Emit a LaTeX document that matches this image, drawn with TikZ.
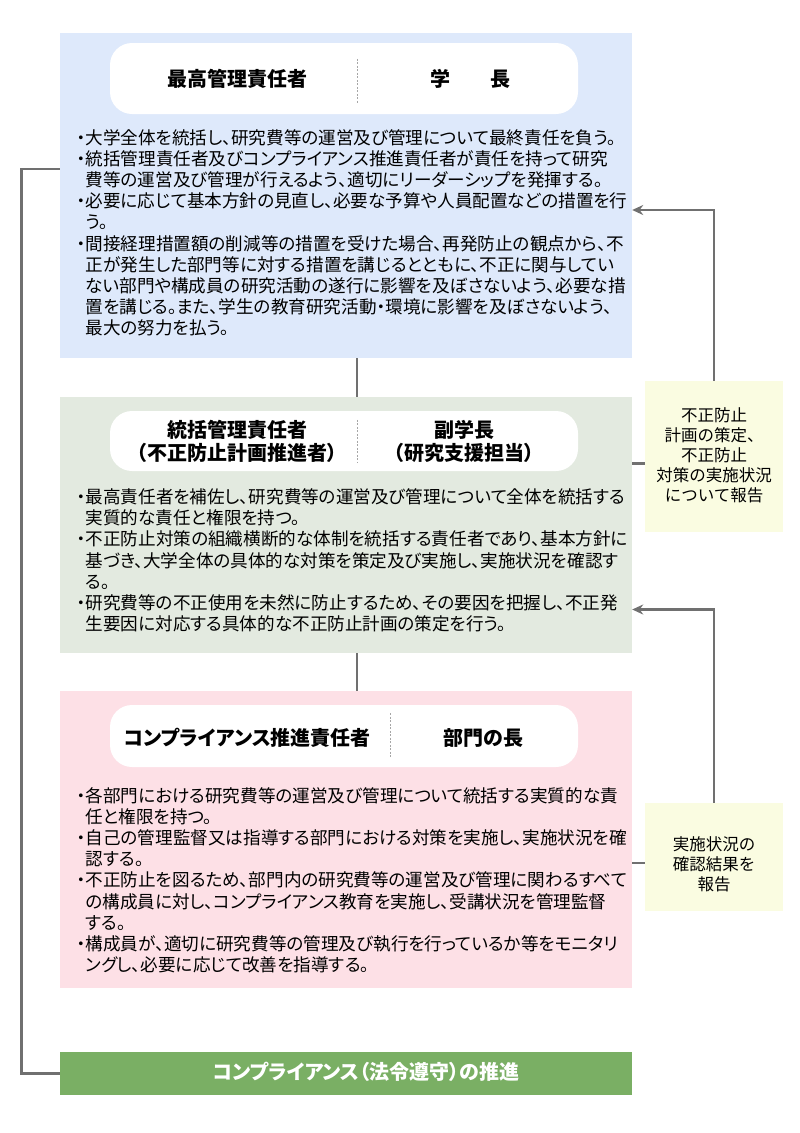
\documentclass[tikz,border=0pt]{standalone}
\usepackage{fontspec}
\setmainfont{Noto Sans CJK JP}[RawFeature=+palt]
\newfontfamily\plainjp{Noto Sans CJK JP}
\usetikzlibrary{arrows.meta}

\definecolor{panelblue}{RGB}{222,233,251}
\definecolor{panelgreen}{RGB}{227,234,224}
\definecolor{panelpink}{RGB}{253,224,230}
\definecolor{reportyellow}{RGB}{250,252,225}
\definecolor{bargreen}{RGB}{122,175,100}
\definecolor{linegray}{RGB}{112,112,112}

\def\panelwidth{572pt}
\newcommand{\itm}{\makebox[9.5pt][c]{・}}
\newcommand{\cnt}{\hspace*{9.5pt}}

\begin{document}
\begin{tikzpicture}[x=1pt,y=-1pt]
    \tikzstyle{panel}=[rectangle,minimum width=\panelwidth,inner sep=0pt]
    \tikzstyle{header}=[rectangle,fill=white,rounded corners=22pt,minimum width=468pt,inner sep=0pt]
    \tikzstyle{headtext}=[font=\bfseries\fontsize{20}{23.5}\selectfont,align=center,inner sep=0pt]
    \tikzstyle{body}=[font=\fontsize{17.6}{21.2}\selectfont,align=left,inner sep=0pt,anchor=north west]
    \tikzstyle{report}=[rectangle,fill=reportyellow,minimum width=138pt,inner sep=0pt]
    \tikzstyle{reporttext}=[font=\plainjp\fontsize{16.5}{20}\selectfont,align=center,inner sep=0pt]
    \tikzstyle{divider}=[draw=gray!70,line width=1pt,dash pattern=on 2pt off 1.5pt]
    \tikzstyle{link}=[draw=linegray,line width=2.8pt]
    \tikzstyle{report arrow}=[link,-{Stealth[length=11pt,width=10pt]}]
    \useasboundingbox (0,0) rectangle (800,1133);
    % Draw the three panels
    \node[panel,fill=panelblue,minimum height=325pt] (p1) at (346,195.5) {};
    \node[panel,fill=panelgreen,minimum height=256pt] (p2) at (346,525) {};
    \node[panel,fill=panelpink,minimum height=297pt] (p3) at (346,839.5) {};
    \node[panel,fill=bargreen,minimum height=43pt] (bar) at (346,1073.5) {};
    \node[headtext,text=white,font=\bfseries\fontsize{20}{22}\selectfont] (bartext) at (366,1072) {コンプライアンス（法令遵守）の推進};
    % Headers
    \node[header,minimum height=71pt] (h1) at (344,78.5) {};
    \draw[divider] ([xshift=13pt,yshift=-16pt]h1.north) -- ([xshift=13pt,yshift=11pt]h1.south);
    \node[headtext] (h1l) at (237,78.5) {最高管理責任者};
    \node[headtext] (h1r) at (470.5,78.5) {学　　長};
    \node[header,minimum height=60pt] (h2) at (344,441) {};
    \draw[divider] ([xshift=13pt,yshift=-9pt]h2.north) -- ([xshift=13pt,yshift=8pt]h2.south);
    \node[headtext] (h2l) at (237,441.5) {統括管理責任者\\（不正防止計画推進者）};
    \node[headtext] (h2r) at (464,441.5) {副学長\\（研究支援担当）};
    \node[header,minimum height=62pt] (h3) at (344,736) {};
    \draw[divider] ([xshift=46.5pt,yshift=-8.5pt]h3.north) -- ([xshift=46.5pt,yshift=9.5pt]h3.south);
    \node[headtext] (h3l) at (247.5,737.5) {コンプライアンス推進責任者};
    \node[headtext] (h3r) at (483.5,737.5) {部門の長};
    % Duties
    \node[body] (t1) at (76,129) {\itm 大学全体を統括し、研究費等の運営及び管理について最終責任を負う。\\
        \itm 統括管理責任者及びコンプライアンス推進責任者が責任を持って研究\\
        \cnt 費等の運営及び管理が行えるよう、適切にリーダーシップを発揮する。\\
        \itm 必要に応じて基本方針の見直し、必要な予算や人員配置などの措置を行\\
        \cnt う。\\
        \itm 間接経理措置額の削減等の措置を受けた場合、再発防止の観点から、不\\
        \cnt 正が発生した部門等に対する措置を講じるとともに、不正に関与してい\\
        \cnt ない部門や構成員の研究活動の遂行に影響を及ぼさないよう、必要な措\\
        \cnt 置を講じる。また、学生の教育研究活動・環境に影響を及ぼさないよう、\\
        \cnt 最大の努力を払う。};
    \node[body] (t2) at (76,488.5) {\itm 最高責任者を補佐し、研究費等の運営及び管理について全体を統括する\\
        \cnt 実質的な責任と権限を持つ。\\
        \itm 不正防止対策の組織横断的な体制を統括する責任者であり、基本方針に\\
        \cnt 基づき、大学全体の具体的な対策を策定及び実施し、実施状況を確認す\\
        \cnt る。\\
        \itm 研究費等の不正使用を未然に防止するため、その要因を把握し、不正発\\
        \cnt 生要因に対応する具体的な不正防止計画の策定を行う。};
    \node[body] (t3) at (76,787) {\itm 各部門における研究費等の運営及び管理について統括する実質的な責\\
        \cnt 任と権限を持つ。\\
        \itm 自己の管理監督又は指導する部門における対策を実施し、実施状況を確\\
        \cnt 認する。\\
        \itm 不正防止を図るため、部門内の研究費等の運営及び管理に関わるすべて\\
        \cnt の構成員に対し、コンプライアンス教育を実施し、受講状況を管理監督\\
        \cnt する。\\
        \itm 構成員が、適切に研究費等の管理及び執行を行っているか等をモニタリ\\
        \cnt ングし、必要に応じて改善を指導する。};
    % Reports
    \node[report,minimum height=151pt] (rep1) at (714,456.3) {};
    \node[reporttext] (rep1t) at (714,455) {不正防止\\計画の策定、\\不正防止\\対策の実施状況\\について報告};
    \node[report,minimum height=108pt] (rep2) at (714,857) {};
    \node[reporttext] (rep2t) at (714,864) {実施状況の\\確認結果を\\報告};
    % Connectors
    \draw[link] ([xshift=11pt]p1.south) -- ([xshift=11pt]p2.north);
    \draw[link] ([xshift=11pt]p2.south) -- ([xshift=11pt]p3.north);
    \draw[link] ([yshift=26.5pt]p1.west) -- ++(-38,0) |- (bar.west);
    \draw[link] ([yshift=-7pt]rep1.west) -- ([yshift=-7pt]rep1.west -| p2.east);
    \draw[link] ([yshift=-6pt]rep2.west) -- ([yshift=-6pt]rep2.west -| p3.east);
    \draw[report arrow] (rep1.north) |- ([yshift=-14.5pt]p1.east);
    \draw[report arrow] (rep2.north) |- ([yshift=-84.5pt]p2.east);
\end{tikzpicture}
\end{document}
